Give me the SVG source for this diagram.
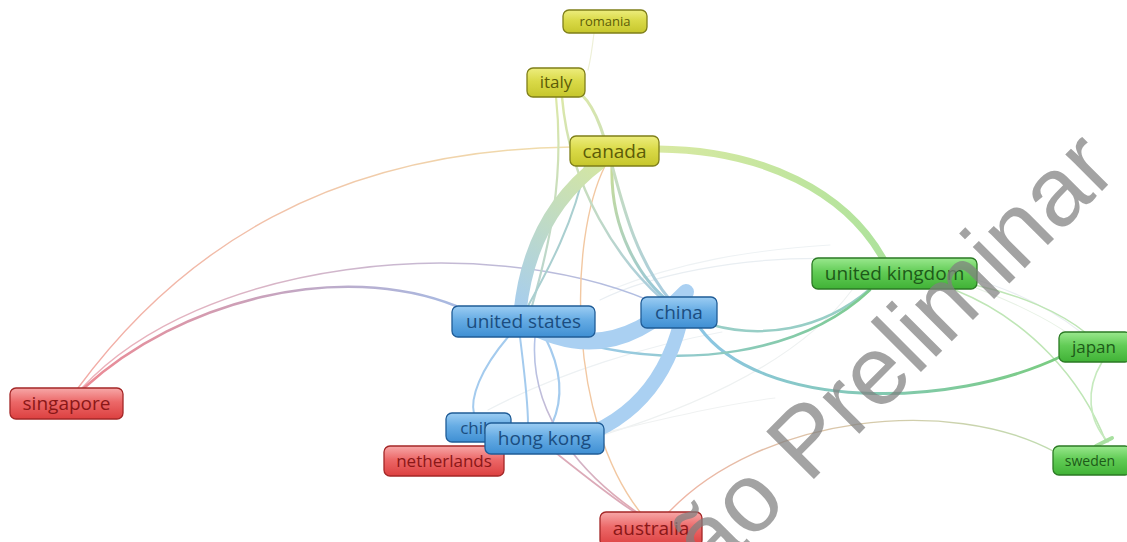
<svg xmlns="http://www.w3.org/2000/svg" width="1127" height="542" viewBox="0 0 1127 542">
<style>
.e{fill:none;stroke-linecap:round}
.n rect{stroke-width:1.3}
.t{font-family:"Open Sans","Noto Sans","Liberation Sans",sans-serif;text-anchor:middle}
.blue rect{fill:url(#gb);stroke:#1f5c97}
.blue text{fill:#1b4d80}
.green rect{fill:url(#gg);stroke:#2b7a24}
.green text{fill:#1d5a19}
.red rect{fill:url(#gr);stroke:#a42727}
.red text{fill:#8a1717}
.yellow rect{fill:url(#gy);stroke:#7f7f19}
.yellow text{fill:#5c5c08}
.wm{font-family:"Liberation Sans",Arial,sans-serif;font-size:98px;fill:#808080;fill-opacity:0.72}
</style>
<defs>
<linearGradient id="gb" x1="0" y1="0" x2="0" y2="1"><stop offset="0" stop-color="#9ccdf3"/><stop offset="0.45" stop-color="#66acE4"/><stop offset="1" stop-color="#3f8fd3"/></linearGradient>
<linearGradient id="gg" x1="0" y1="0" x2="0" y2="1"><stop offset="0" stop-color="#9ae88e"/><stop offset="0.45" stop-color="#62cc56"/><stop offset="1" stop-color="#40b236"/></linearGradient>
<linearGradient id="gr" x1="0" y1="0" x2="0" y2="1"><stop offset="0" stop-color="#f7a8a8"/><stop offset="0.45" stop-color="#ec6868"/><stop offset="1" stop-color="#dc4040"/></linearGradient>
<linearGradient id="gy" x1="0" y1="0" x2="0" y2="1"><stop offset="0" stop-color="#eded7e"/><stop offset="0.45" stop-color="#dada48"/><stop offset="1" stop-color="#c6c62c"/></linearGradient>
<linearGradient id="e-cu" gradientUnits="userSpaceOnUse" x1="600" y1="163" x2="520" y2="312"><stop offset="0" stop-color="#d4e6a2"/><stop offset="1" stop-color="#a6cdef"/></linearGradient>
<linearGradient id="e-cuk" gradientUnits="userSpaceOnUse" x1="658" y1="150" x2="888" y2="268"><stop offset="0" stop-color="#d8e9a2"/><stop offset="1" stop-color="#ace29c"/></linearGradient>
<linearGradient id="e-su" gradientUnits="userSpaceOnUse" x1="84" y1="388" x2="455" y2="305"><stop offset="0" stop-color="#ec8a94"/><stop offset="1" stop-color="#a8bae2"/></linearGradient>
<linearGradient id="e-sc" gradientUnits="userSpaceOnUse" x1="82" y1="388" x2="648" y2="300"><stop offset="0" stop-color="#eeb0b8"/><stop offset="1" stop-color="#b0bee2"/></linearGradient>
<linearGradient id="e-scan" gradientUnits="userSpaceOnUse" x1="78" y1="388" x2="570" y2="147"><stop offset="0" stop-color="#f2aaa6"/><stop offset="1" stop-color="#f0deac"/></linearGradient>
<linearGradient id="e-uuk" gradientUnits="userSpaceOnUse" x1="590" y1="345" x2="870" y2="290"><stop offset="0" stop-color="#9ccaea"/><stop offset="1" stop-color="#7ccb8e"/></linearGradient>
<linearGradient id="e-cj" gradientUnits="userSpaceOnUse" x1="700" y1="328" x2="1062" y2="356"><stop offset="0" stop-color="#8cc6e4"/><stop offset="1" stop-color="#7acc80"/></linearGradient>
<linearGradient id="e-as" gradientUnits="userSpaceOnUse" x1="668" y1="513" x2="1055" y2="452"><stop offset="0" stop-color="#f0b4a4"/><stop offset="1" stop-color="#c0dcb0"/></linearGradient>
<linearGradient id="e-cc" gradientUnits="userSpaceOnUse" x1="612" y1="165" x2="672" y2="305"><stop offset="0" stop-color="#c8dc98"/><stop offset="1" stop-color="#94c6e0"/></linearGradient>
<linearGradient id="e-ic" gradientUnits="userSpaceOnUse" x1="560" y1="97" x2="665" y2="300"><stop offset="0" stop-color="#dce8a8"/><stop offset="1" stop-color="#a8cce0"/></linearGradient>
<linearGradient id="e-hka" gradientUnits="userSpaceOnUse" x1="540" y1="340" x2="640" y2="512"><stop offset="0" stop-color="#b4c4e8"/><stop offset="1" stop-color="#e4a8b0"/></linearGradient>
</defs>
<rect width="1127" height="542" fill="#ffffff"/>
<g id="connectors">
<!-- faint links -->
<path class="e" d="M594,33 C592,50 590,62 588,70" stroke="#eef0d8" stroke-width="1.2"/>
<path class="e" d="M600,300 C700,250 950,228 1082,333" stroke="#e9eef2" stroke-width="1.2"/>
<path class="e" d="M600,436 C700,405 800,360 852,290" stroke="#eef1f1" stroke-width="1.2"/>
<path class="e" d="M488,410 C560,372 650,345 722,332" stroke="#edf1f3" stroke-width="1.2"/>
<path class="e" d="M603,433 C660,420 720,405 775,398" stroke="#f0f2f2" stroke-width="1.1"/>
<path class="e" d="M960,282 C1010,300 1050,320 1070,335" stroke="#e8f2e6" stroke-width="1.1"/>
<path class="e" d="M610,290 C680,262 750,250 830,245" stroke="#eef2f4" stroke-width="1.1"/>
<!-- singapore links -->
<path class="e" d="M78,388 C180,250 330,150 572,147" stroke="url(#e-scan)" stroke-width="1.4"/>
<path class="e" d="M82,388 C200,260 480,230 648,300" stroke="url(#e-sc)" stroke-width="1.5"/>
<path class="e" d="M84,388 C180,300 340,260 456,306" stroke="url(#e-su)" stroke-width="2.6"/>
<!-- right side -->
<path class="e" d="M668,513 C760,415 950,395 1055,452" stroke="url(#e-as)" stroke-width="1.4"/>
<path class="e" d="M975,285 C1020,295 1060,312 1086,333" stroke="#bfe6b6" stroke-width="1.5"/>
<path class="e" d="M955,290 C1030,320 1082,380 1106,442" stroke="#bfe6b6" stroke-width="1.6"/>
<path class="e" d="M1102,362 C1085,390 1088,420 1108,442" stroke="#c6eabe" stroke-width="1.6"/>
<path class="e" d="M1096,446 L1112,438" stroke="#a8e0a0" stroke-width="4"/>
<path class="e" d="M700,328 C760,410 950,410 1062,356" stroke="url(#e-cj)" stroke-width="3"/>
<path class="e" d="M712,325 C760,338 820,332 870,289" stroke="#98cec6" stroke-width="2.5"/>
<path class="e" d="M590,345 C680,368 800,356 870,290" stroke="url(#e-uuk)" stroke-width="2.5"/>
<!-- canada / italy links -->
<path class="e" d="M658,149 C760,150 850,190 888,268" stroke="url(#e-cuk)" stroke-width="7"/>
<path class="e" d="M605,166 C568,240 568,420 640,512" stroke="#f2c8a2" stroke-width="1.4"/>
<path class="e" d="M612,166 C610,230 640,280 672,304" stroke="url(#e-cc)" stroke-width="3"/>
<path class="e" d="M562,97 C570,190 620,262 662,299" stroke="url(#e-ic)" stroke-width="2.5"/>
<path class="e" d="M582,95 C616,128 612,230 670,300" stroke="url(#e-ic)" stroke-width="3"/>
<path class="e" d="M556,97 C565,180 548,250 532,306" stroke="url(#e-ic)" stroke-width="2.2"/>
<path class="e" d="M585,166 C575,220 548,270 528,306" stroke="#aacfd0" stroke-width="2"/>
<path class="e" d="M600,163 Q530,215 520,312" stroke="url(#e-cu)" stroke-width="13" stroke-linecap="butt"/>
<!-- us / hong kong / chile / australia -->
<path class="e" d="M508,337 C480,370 470,398 474,414" stroke="#a4cbee" stroke-width="2"/>
<path class="e" d="M520,337 C524,370 528,400 528,424" stroke="#a4cbee" stroke-width="2"/>
<path class="e" d="M545,337 C562,370 563,400 552,424" stroke="#a4cbee" stroke-width="2.2"/>
<path class="e" d="M535,337 C528,420 590,480 638,513" stroke="url(#e-hka)" stroke-width="1.6"/>
<path class="e" d="M556,453 C590,480 615,500 636,513" stroke="#dcaab8" stroke-width="1.6"/>
<path class="e" d="M524,322 Q610,372 686,292" stroke="#aad0f2" stroke-width="16" stroke-linecap="butt"/>
<path class="e" d="M686,294 Q670,410 572,440" stroke="#aad0f2" stroke-width="14" stroke-linecap="butt"/>
</g>
<g id="node-romania" class="n yellow"><rect x="563" y="10" width="84" height="23" rx="6"/><text class="t" x="605" y="25.5" font-size="13">romania</text></g>
<g id="node-italy" class="n yellow"><rect x="527" y="68" width="58" height="29" rx="6"/><text class="t" x="556" y="88" font-size="17">italy</text></g>
<g id="node-canada" class="n yellow"><rect x="570" y="136" width="89" height="30" rx="6"/><text class="t" x="614.5" y="157.5" font-size="19">canada</text></g>
<g id="node-united-kingdom" class="n green"><rect x="812" y="258" width="165" height="31" rx="6"/><text class="t" x="894.5" y="279.5" font-size="19">united kingdom</text></g>
<g id="node-china" class="n blue"><rect x="641" y="297" width="76" height="31" rx="6"/><text class="t" x="679" y="318.5" font-size="19">china</text></g>
<g id="node-united-states" class="n blue"><rect x="452" y="306" width="143" height="31" rx="6"/><text class="t" x="523.5" y="327.5" font-size="19">united states</text></g>
<g id="node-japan" class="n green"><rect x="1059" y="332" width="72" height="30" rx="6"/><text class="t" x="1094" y="353" font-size="17">japan</text></g>
<g id="node-singapore" class="n red"><rect x="10" y="388" width="113" height="31" rx="6"/><text class="t" x="66.5" y="409.5" font-size="19">singapore</text></g>
<g id="node-netherlands" class="n red"><rect x="384" y="446" width="120" height="30" rx="6"/><text class="t" x="444" y="467" font-size="17">netherlands</text></g>
<g id="node-chile" class="n blue"><rect x="446" y="413" width="65" height="29" rx="6"/><text class="t" x="478.5" y="433.5" font-size="17">chile</text></g>
<g id="node-hong-kong" class="n blue"><rect x="485" y="423" width="119" height="31" rx="6"/><text class="t" x="544.5" y="444.5" font-size="19">hong kong</text></g>
<g id="node-sweden" class="n green"><rect x="1053" y="446" width="78" height="29" rx="6"/><text class="t" x="1090" y="465.5" font-size="14">sweden</text></g>
<g id="node-australia" class="n red"><rect x="600" y="512" width="102" height="34" rx="6"/><text class="t" x="651" y="534.5" font-size="19">australia</text></g>
<text class="wm" x="712" y="581" transform="rotate(-45 712 581)">ão Preliminar</text>
</svg>
